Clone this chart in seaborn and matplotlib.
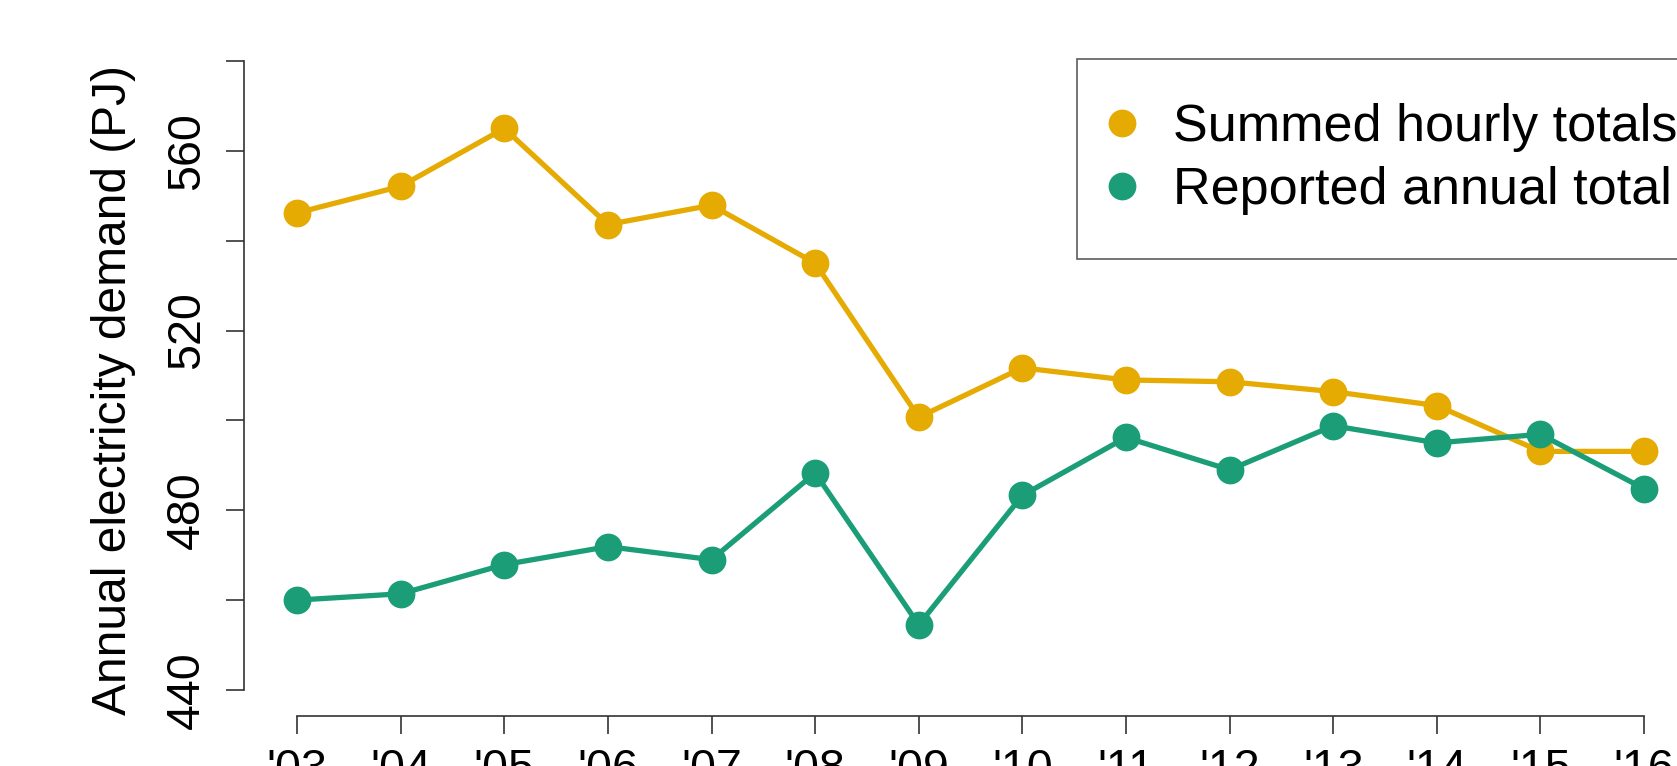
import numpy as np
import pandas as pd
import matplotlib
matplotlib.use('Agg')
import matplotlib.pyplot as plt
from matplotlib.lines import Line2D
import seaborn as sns

# data
years = [2003, 2004, 2005, 2006, 2007, 2008, 2009, 2010, 2011, 2012, 2013, 2014, 2015, 2016]
year_labels = ["'03", "'04", "'05", "'06", "'07", "'08", "'09", "'10", "'11", "'12", "'13", "'14", "'15", "'16"]
summed_hourly = [546.2, 552.1, 565.0, 543.6, 547.9, 535.0, 500.7, 511.7, 509.0, 508.6, 506.4, 503.3, 493.1, 493.1]
reported_annual = [460.0, 461.4, 467.9, 471.9, 469.0, 488.3, 454.5, 483.3, 496.2, 489.0, 498.8, 495.0, 496.9, 484.8]
series_names = ['Summed hourly totals', 'Reported annual total']
colors = ['#E6AB02', '#1B9E77']
y_ticks = [440, 460, 480, 500, 520, 540, 560, 580]
y_labels = ['440', '', '480', '', '520', '', '560', '']

df = pd.DataFrame({
    'year': years * 2,
    'demand': summed_hourly + reported_annual,
    'series': [series_names[0]] * len(years) + [series_names[1]] * len(years),
})

sns.set_style('white')
plt.rcParams['font.family'] = ['Liberation Sans', 'DejaVu Sans']
plt.rcParams['text.color'] = 'black'
plt.rcParams['axes.labelcolor'] = 'black'
plt.rcParams['xtick.color'] = 'black'
plt.rcParams['ytick.color'] = 'black'

W, H = 1677, 766
fig = plt.figure(figsize=(W / 100, H / 100), dpi=100)
# axes placed in pixel terms so the plot is cropped like the original
ax = fig.add_axes([244 / W, 1 - 716 / H, 1 - 244 / W, (716 - 61) / H])

sns.lineplot(data=df, x='year', y='demand', hue='series', hue_order=series_names,
             palette=colors, marker='o', markersize=20, markeredgewidth=0,
             linewidth=3.8, ax=ax, legend=False, clip_on=False)

ax.set_xlim(2002.488, 2016.318)
ax.set_ylim(434.2, 580)

for s in ['top', 'right']:
    ax.spines[s].set_visible(False)
for s in ['left', 'bottom']:
    ax.spines[s].set_color('#333333')
    ax.spines[s].set_linewidth(1.2)
ax.spines['left'].set_bounds(440, 580)
ax.spines['bottom'].set_bounds(2003, 2016)

ax.set_xticks(years)
ax.set_xticklabels(year_labels)
ax.set_yticks(y_ticks)
ax.set_yticklabels(y_labels, rotation=90, va='center')
ax.tick_params(axis='both', which='major', length=13, width=1.2, color='#333333',
               labelsize=33.5, left=True, bottom=True)
ax.tick_params(axis='x', pad=10)
ax.tick_params(axis='y', pad=12)

ax.set_xlabel('')
ax.set_ylabel('Annual electricity demand (PJ)', fontsize=34.5)
ax.yaxis.set_label_coords((114 - 244) / 1433, (506.8 - 434.2) / (580 - 434.2))
ax.yaxis.label.set_va('center')

handles = [Line2D([], [], linestyle='', marker='o', markersize=20, markeredgewidth=0,
                  color=c) for c in colors]
leg = fig.legend(handles, series_names, loc='upper left',
                 bbox_to_anchor=(1077 / W, 1 - 59 / H), fontsize=37.5,
                 frameon=True, fancybox=False, edgecolor='#333333',
                 borderpad=0.84, labelspacing=0.27, handlelength=0.05,
                 handletextpad=0.95, borderaxespad=0)
leg.get_frame().set_linewidth(1.2)

fig.savefig('out.png', dpi=100)
